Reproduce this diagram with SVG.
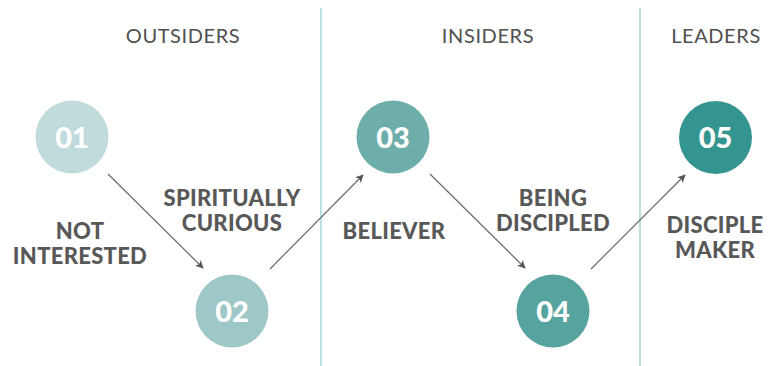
<svg xmlns="http://www.w3.org/2000/svg" width="775" height="366" viewBox="0 0 775 366">
<defs>
<style>
.hdr{font-family:Lato,"Liberation Sans",sans-serif;font-size:20px;fill:#505050;text-anchor:middle;letter-spacing:0.6px}
.lbl{font-family:Lato,"Liberation Sans",sans-serif;font-weight:900;font-size:22px;fill:#585858;text-anchor:middle;letter-spacing:0.3px}
.num{font-family:Lato,"Liberation Sans",sans-serif;font-weight:900;font-size:29px;fill:#fff;text-anchor:middle}
.div{stroke:#bde0e1;stroke-width:2}
.con{stroke:#6a6a6a;stroke-width:1.2;fill:none;marker-end:url(#ah)}
</style>
<marker id="ah" viewBox="0 0 10 10" refX="9" refY="5" markerWidth="8" markerHeight="8" markerUnits="userSpaceOnUse" orient="auto">
<path d="M0,0 L10,5 L0,10 L2.5,5 Z" fill="#555"/>
</marker>
</defs>
<rect width="775" height="366" fill="#fff"/>
<line class="div" x1="321" y1="8" x2="321" y2="366"/>
<line class="div" x1="640" y1="8" x2="640" y2="366"/>
<text class="hdr" x="183" y="43">OUTSIDERS</text>
<text class="hdr" x="488" y="43">INSIDERS</text>
<text class="hdr" x="716" y="43">LEADERS</text>
<g id="connectors">
<line class="con" x1="108" y1="174" x2="203" y2="268"/>
<line class="con" x1="270" y1="269" x2="363" y2="175"/>
<line class="con" x1="430" y1="174" x2="525" y2="268"/>
<line class="con" x1="591" y1="269" x2="685" y2="175"/>
</g>
<g id="n01">
<circle cx="72" cy="137" r="36.5" fill="#bfdbdb"/>
<text class="num" x="72" y="147.5">01</text>
<text class="lbl" x="80" y="239">NOT</text>
<text class="lbl" x="80" y="264">INTERESTED</text>
</g>
<g id="n02">
<circle cx="232" cy="311" r="36.5" fill="#9ec8c7"/>
<text class="num" x="232" y="321.5">02</text>
<text class="lbl" x="232" y="206">SPIRITUALLY</text>
<text class="lbl" x="232" y="231">CURIOUS</text>
</g>
<g id="n03">
<circle cx="393" cy="137" r="36.5" fill="#6dadaa"/>
<text class="num" x="393" y="147.5">03</text>
<text class="lbl" x="394" y="239">BELIEVER</text>
</g>
<g id="n04">
<circle cx="553" cy="311" r="36.5" fill="#56a3a0"/>
<text class="num" x="553" y="321.5">04</text>
<text class="lbl" x="553" y="206">BEING</text>
<text class="lbl" x="553" y="231">DISCIPLED</text>
</g>
<g id="n05">
<circle cx="715.5" cy="137.5" r="36.5" fill="#349590"/>
<text class="num" x="715.5" y="148">05</text>
<text class="lbl" x="715" y="233">DISCIPLE</text>
<text class="lbl" x="715" y="258">MAKER</text>
</g>
</svg>
